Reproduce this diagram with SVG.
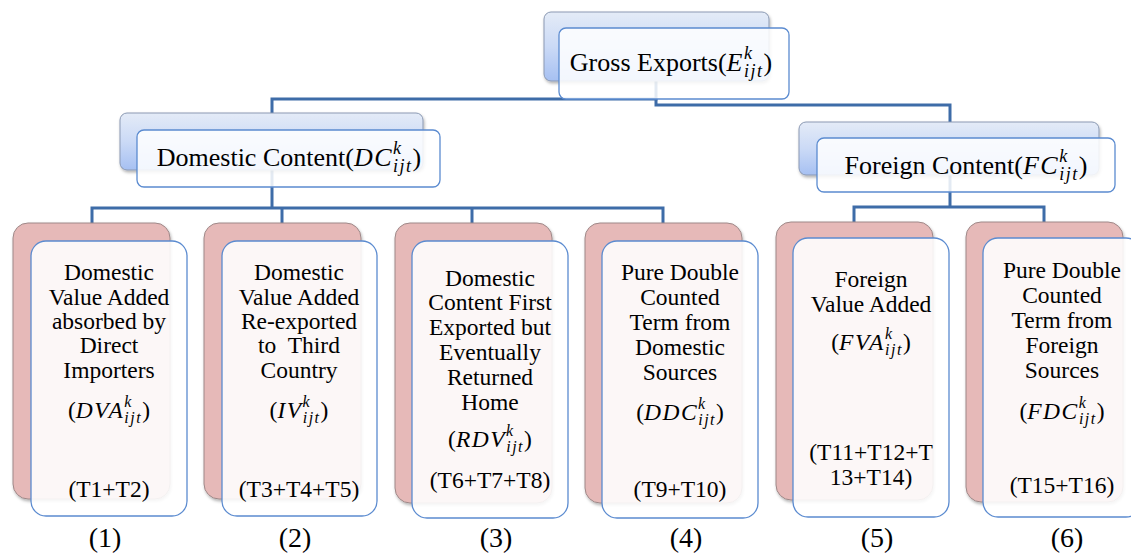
<svg xmlns="http://www.w3.org/2000/svg" width="1131" height="553" viewBox="0 0 1131 553" font-family="'Liberation Serif', Tinos, 'DejaVu Serif', serif">
<style>
text{font-family:'Liberation Serif',Tinos,'DejaVu Serif',serif;fill:#000;text-anchor:middle}
.h{font-size:26px}
.t{font-size:23.5px}
.n{font-size:28px}
.i{font-style:italic;letter-spacing:1.5px}
.s{font-style:italic;font-size:16px}
.hs{font-style:italic;font-size:18px}
.sb{letter-spacing:1.5px}
.conn{fill:none;stroke:#3e6ca8;stroke-width:3}
.bb{fill:url(#blueg);stroke:#8b99b3;stroke-width:1}
.fb{fill:#fff;fill-opacity:0.86;stroke:#5b8bd0;stroke-width:1.3}
.pb{fill:#e6b9b8;stroke:#9e8888;stroke-width:1}
.lf{fill:#fff;fill-opacity:0.88;stroke:#5b8bd0;stroke-width:1.3}
</style>
<defs>
<linearGradient id="blueg" x1="0" y1="0" x2="0" y2="1">
<stop offset="0" stop-color="#e4ebf7"/>
<stop offset="0.5" stop-color="#cbdaf6"/>
<stop offset="1" stop-color="#a6c0f2"/>
</linearGradient>
<filter id="sh" x="-10%" y="-10%" width="130%" height="130%">
<feDropShadow dx="1" dy="2" stdDeviation="1.5" flood-color="#000" flood-opacity="0.3"/>
</filter>
</defs>
<g id="connectors">
<path class="conn" d="M656,60 V99 H272 V208"/>
<path class="conn" d="M656,99 V105 H950 V207"/>
<path class="conn" d="M92,231 V208 H663 V231"/>
<path class="conn" d="M282,208 V231"/>
<path class="conn" d="M472,208 V231"/>
<path class="conn" d="M854,230 V207 H1044 V230"/>
</g>
<g id="gross">
<rect class="bb" x="544" y="12" width="225" height="69" rx="7" filter="url(#sh)"/>
<rect class="fb" x="559" y="28" width="230" height="71" rx="7"/>
<text class="h" x="671" y="71">Gross Exports(<tspan class="i">E</tspan><tspan class="hs" dy="-12">k</tspan><tspan class="hs sb" dx="-8" dy="18">ijt</tspan><tspan dy="-6">)</tspan></text>
</g>
<g id="dc">
<rect class="bb" x="120" y="113" width="303" height="57" rx="7" filter="url(#sh)"/>
<rect class="fb" x="137" y="130" width="303" height="57" rx="7"/>
<text class="h" x="289" y="166">Domestic Content(<tspan class="i">DC</tspan><tspan class="hs" dy="-12">k</tspan><tspan class="hs sb" dx="-8" dy="18">ijt</tspan><tspan dy="-6">)</tspan></text>
</g>
<g id="fc">
<rect class="bb" x="799" y="122" width="300" height="53" rx="7" filter="url(#sh)"/>
<rect class="fb" x="817" y="138" width="298" height="54" rx="7"/>
<text class="h" x="966" y="174">Foreign Content(<tspan class="i">FC</tspan><tspan class="hs" dy="-12">k</tspan><tspan class="hs sb" dx="-8" dy="18">ijt</tspan><tspan dy="-6">)</tspan></text>
</g>
<g id="leaf1">
<rect class="pb" x="13" y="223" width="157" height="276" rx="15" filter="url(#sh)"/>
<rect class="lf" x="31" y="241" width="156" height="275" rx="15"/>
<text class="t" x="109" y="280">Domestic</text>
<text class="t" x="109" y="305">Value Added</text>
<text class="t" x="109" y="329">absorbed by</text>
<text class="t" x="109" y="353">Direct</text>
<text class="t" x="109" y="378">Importers</text>
<text class="t" x="109" y="418">(<tspan class="i">DVA</tspan><tspan class="s" dy="-11">k</tspan><tspan class="s sb" dx="-7" dy="16">ijt</tspan><tspan dy="-5">)</tspan></text>
<text class="t" x="109" y="497">(T1+T2)</text>
<text class="n" x="105" y="547">(1)</text>
</g>
<g id="leaf2">
<rect class="pb" x="204" y="223" width="157" height="276" rx="15" filter="url(#sh)"/>
<rect class="lf" x="222" y="241" width="155" height="275" rx="15"/>
<text class="t" x="299" y="280">Domestic</text>
<text class="t" x="299" y="305">Value Added</text>
<text class="t" x="299" y="329">Re-exported</text>
<text class="t" x="299" y="353" style="white-space:pre">to  Third</text>
<text class="t" x="299" y="378">Country</text>
<text class="t" x="299" y="418">(<tspan class="i">IV</tspan><tspan class="s" dy="-11">k</tspan><tspan class="s sb" dx="-7" dy="16">ijt</tspan><tspan dy="-5">)</tspan></text>
<text class="t" x="299" y="497">(T3+T4+T5)</text>
<text class="n" x="295" y="547">(2)</text>
</g>
<g id="leaf3">
<rect class="pb" x="395" y="223" width="157" height="280" rx="15" filter="url(#sh)"/>
<rect class="lf" x="412" y="241" width="156" height="277" rx="15"/>
<text class="t" x="490" y="286">Domestic</text>
<text class="t" x="490" y="310">Content First</text>
<text class="t" x="490" y="335">Exported but</text>
<text class="t" x="490" y="360">Eventually</text>
<text class="t" x="490" y="385">Returned</text>
<text class="t" x="490" y="410">Home</text>
<text class="t" x="490" y="447">(<tspan class="i">RDV</tspan><tspan class="s" dy="-11">k</tspan><tspan class="s sb" dx="-7" dy="16">ijt</tspan><tspan dy="-5">)</tspan></text>
<text class="t" x="490" y="488">(T6+T7+T8)</text>
<text class="n" x="496" y="547">(3)</text>
</g>
<g id="leaf4">
<rect class="pb" x="585" y="223" width="157" height="280" rx="15" filter="url(#sh)"/>
<rect class="lf" x="602" y="241" width="156" height="277" rx="15"/>
<text class="t" x="680" y="280">Pure Double</text>
<text class="t" x="680" y="305">Counted</text>
<text class="t" x="680" y="330">Term from</text>
<text class="t" x="680" y="355">Domestic</text>
<text class="t" x="680" y="380">Sources</text>
<text class="t" x="680" y="420">(<tspan class="i">DDC</tspan><tspan class="s" dy="-11">k</tspan><tspan class="s sb" dx="-7" dy="16">ijt</tspan><tspan dy="-5">)</tspan></text>
<text class="t" x="680" y="497">(T9+T10)</text>
<text class="n" x="686" y="547">(4)</text>
</g>
<g id="leaf5">
<rect class="pb" x="776" y="222" width="157" height="278" rx="15" filter="url(#sh)"/>
<rect class="lf" x="793" y="238" width="156" height="279" rx="15"/>
<text class="t" x="871" y="287">Foreign</text>
<text class="t" x="871" y="312">Value Added</text>
<text class="t" x="871" y="350">(<tspan class="i">FVA</tspan><tspan class="s" dy="-11">k</tspan><tspan class="s sb" dx="-7" dy="16">ijt</tspan><tspan dy="-5">)</tspan></text>
<text class="t" x="871" y="460">(T11+T12+T</text>
<text class="t" x="871" y="485">13+T14)</text>
<text class="n" x="877" y="547">(5)</text>
</g>
<g id="leaf6">
<rect class="pb" x="966" y="222" width="157" height="280" rx="15" filter="url(#sh)"/>
<rect class="lf" x="983" y="238" width="158" height="279" rx="15"/>
<text class="t" x="1062" y="278">Pure Double</text>
<text class="t" x="1062" y="303">Counted</text>
<text class="t" x="1062" y="328">Term from</text>
<text class="t" x="1062" y="353">Foreign</text>
<text class="t" x="1062" y="378">Sources</text>
<text class="t" x="1062" y="419">(<tspan class="i">FDC</tspan><tspan class="s" dy="-11">k</tspan><tspan class="s sb" dx="-7" dy="16">ijt</tspan><tspan dy="-5">)</tspan></text>
<text class="t" x="1062" y="493">(T15+T16)</text>
<text class="n" x="1067" y="547">(6)</text>
</g>
</svg>
